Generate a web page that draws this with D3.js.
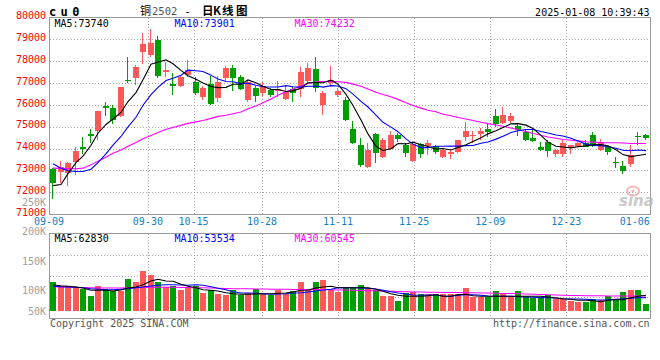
<!DOCTYPE html>
<html lang="zh">

<head>
	<meta charset="utf-8">
	<title>cu0 日K线图</title>
	<script src="https://d3js.org/d3.v7.min.js"></script>
	<style>
		body {
			margin: 0;
			background: #fff;
		}

		svg text {
			font-family: "DejaVu Sans Mono", "Liberation Mono", monospace;
			font-size: 10px;
		}
	</style>
</head>

<body>
	<script>
		//daily k-line of cu0 (copper 2502), 09-09 to 01-08

		var dates = ["09-09", "09-10", "09-11", "09-12", "09-13", "09-18", "09-19", "09-20", "09-23", "09-24",
			"09-25", "09-26", "09-27", "09-30", "10-08", "10-09", "10-10", "10-11", "10-14", "10-15",
			"10-16", "10-17", "10-18", "10-21", "10-22", "10-23", "10-24", "10-25", "10-28", "10-29",
			"10-30", "10-31", "11-01", "11-04", "11-05", "11-06", "11-07", "11-08", "11-11", "11-12",
			"11-13", "11-14", "11-15", "11-18", "11-19", "11-20", "11-21", "11-22", "11-25", "11-26",
			"11-27", "11-28", "11-29", "12-02", "12-03", "12-04", "12-05", "12-06", "12-09", "12-10",
			"12-11", "12-12", "12-13", "12-16", "12-17", "12-18", "12-19", "12-20", "12-23", "12-24",
			"12-25", "12-26", "12-27", "12-30", "12-31", "01-02", "01-03", "01-06", "01-07", "01-08"];

		var open = [73050, 72910, 72900, 73360, 74070, 74680, 74800, 75940, 75860, 75480,
			77160, 77230, 78420, 78300, 78980, 77500, 76940, 76860, 77380, 77030,
			76350, 76950, 76320, 77230, 77670, 77260, 76230, 76770, 76530, 76680,
			76650, 76290, 76730, 76730, 77080, 77640, 76000, 77000, 76470, 76230,
			74910, 74180, 73170, 74680, 73590, 74000, 74640, 74150, 73440, 74200,
			74110, 74110, 73590, 73770, 73850, 74530, 74560, 74650, 74910, 75480,
			75170, 75260, 75030, 74760, 74500, 74080, 74300, 73740, 73740, 74050,
			74080, 74260, 74610, 73950, 74050, 73390, 73200, 73270, 74590, 74620];
		var high = [73100, 73440, 73400, 74080, 74530, 74900, 75710, 76150, 75970, 76820,
			78170, 77830, 79290, 79460, 79150, 77970, 77480, 77320, 78060, 77260,
			76880, 77300, 77300, 77790, 77820, 77380, 77080, 76880, 77030, 76760,
			77080, 76850, 76800, 77730, 77910, 78210, 76650, 77760, 76770, 76350,
			75260, 74500, 74260, 74730, 74500, 74800, 74730, 74260, 74260, 74260,
			74380, 74180, 74040, 74000, 74410, 75210, 74800, 74950, 75140, 75820,
			75910, 75620, 75140, 74910, 74830, 74300, 74380, 74000, 74380, 74180,
			74300, 74380, 74760, 74450, 74120, 73590, 73440, 74150, 74760, 74650];
		var low = [71680, 72410, 72280, 72800, 73770, 74230, 74380, 75470, 75140, 75450,
			77000, 76910, 77860, 78170, 77250, 77260, 76450, 76830, 77290, 76450,
			76230, 75990, 76120, 77030, 76650, 76680, 76120, 76120, 76420, 76350,
			76350, 76230, 76120, 76350, 76970, 76580, 75520, 76830, 76350, 75250,
			74200, 73140, 73090, 73320, 73550, 73920, 74300, 73590, 73390, 73550,
			73700, 73730, 73550, 73500, 73800, 74350, 74260, 74380, 74530, 74980,
			75140, 75170, 74560, 74350, 74300, 73890, 73620, 73590, 73590, 73770,
			74050, 74050, 74080, 73890, 73700, 73090, 72820, 73170, 74150, 74410];
		var close = [72420, 73140, 73330, 73900, 74000, 74560, 75700, 75860, 75320, 76800,
			77090, 77740, 78800, 78850, 77320, 77580, 76870, 77260, 77600, 76530,
			76770, 76020, 77030, 77670, 77230, 76730, 77030, 76390, 76880, 76470,
			76730, 76590, 76530, 77490, 77700, 76780, 76530, 77140, 76620, 75320,
			74230, 73240, 73920, 73800, 74380, 74610, 74450, 73800, 74200, 73770,
			74230, 73850, 73950, 73850, 74380, 74800, 74610, 74800, 74760, 75100,
			75520, 75480, 74830, 74410, 74350, 73950, 73890, 73920, 74230, 74150,
			74230, 74080, 74150, 74300, 73850, 73330, 72970, 73700, 74530, 74500];
		var volume = [115200, 98700, 99100, 96300, 86800, 58900, 99400, 86600, 78800, 79300,
			126700, 114600, 158900, 142800, 115300, 97400, 98900, 82700, 96100, 98800,
			70600, 82900, 66800, 62700, 82600, 65300, 73400, 86900, 69200, 65400,
			85300, 69100, 78700, 114800, 85400, 115100, 122600, 82800, 76100, 93300,
			93100, 102700, 93400, 82600, 58700, 58800, 40100, 72300, 75900, 69400,
			69100, 69800, 68700, 69600, 69200, 92100, 56300, 55800, 56100, 78900,
			66800, 56200, 78600, 58800, 50900, 56300, 62600, 49300, 48900, 40200,
			36100, 35800, 49200, 45300, 58700, 45100, 74800, 82600, 83100, 27300];

		//moving averages as drawn on the chart
		var ma5 = [72300, 72350, 72850, 73350, 73650, 74150, 74700, 75100, 75350, 75650,
			76150, 76560, 77150, 77860, 77960, 78060, 77880, 77580, 77330, 77170,
			77000, 76840, 76790, 76800, 76940, 76940, 77140, 77010, 76850, 76700,
			76700, 76610, 76640, 76760, 77010, 77020, 77010, 77130, 76950, 76480,
			75970, 75310, 74670, 74100, 73910, 73990, 74230, 74210, 74290, 74170,
			74090, 73970, 74000, 73930, 74050, 74170, 74320, 74490, 74670, 74810,
			74960, 75130, 75140, 75070, 74920, 74600, 74290, 74100, 74070, 74030,
			74080, 74120, 74170, 74180, 74120, 73940, 73720, 73630, 73680, 73740];
		var ma10 = [73300, 73100, 72980, 72950, 72950, 73050, 73350, 73750, 74150, 74550,
			74990, 75430, 75980, 76470, 76800, 77110, 77220, 77360, 77590, 77560,
			77530, 77360, 77180, 77070, 77060, 76970, 76990, 76900, 76830, 76820,
			76820, 76880, 76830, 76810, 76850, 76860, 76810, 76880, 76860, 76740,
			76490, 76160, 75900, 75530, 75200, 74980, 74770, 74440, 74200, 74040,
			74040, 74100, 74100, 74110, 74110, 74130, 74140, 74240, 74300, 74430,
			74560, 74730, 74810, 74870, 74870, 74780, 74710, 74620, 74570, 74470,
			74340, 74200, 74140, 74130, 74080, 74010, 73920, 73900, 73930, 73901];
		var ma30 = [73100, 73090, 73080, 73070, 73100, 73250, 73420, 73600, 73780, 73930,
			74100, 74280, 74450, 74600, 74730, 74880, 74960, 75060, 75150, 75220,
			75280, 75380, 75470, 75520, 75590, 75670, 75820, 75950, 76100, 76270,
			76440, 76600, 76730, 76860, 76980, 77050, 77070, 77080, 77060, 77030,
			76950, 76850, 76730, 76580, 76470, 76370, 76250, 76100, 75970, 75850,
			75750, 75680, 75570, 75500, 75420, 75350, 75280, 75200, 75140, 75080,
			75020, 74940, 74860, 74780, 74690, 74610, 74530, 74470, 74410, 74380,
			74350, 74310, 74290, 74270, 74260, 74260, 74250, 74230, 74230, 74232];
		var volMa5 = [104000, 101000, 99000, 96000, 92000, 83000, 83000, 83000, 80000, 84000,
			92000, 96000, 105000, 120000, 127000, 120000, 119000, 107000, 99000, 93000,
			85000, 83000, 80000, 73000, 69000, 67000, 67000, 68000, 69000, 69000,
			71000, 72000, 76000, 83000, 84000, 92000, 96000, 99000, 93000, 93000,
			93000, 93000, 93000, 87000, 79000, 69000, 63000, 59000, 59000, 59000,
			61000, 65000, 59000, 59000, 65000, 67000, 61000, 59000, 59000, 59000,
			59000, 59000, 59000, 59000, 59000, 59000, 56000, 52000, 49000, 47000,
			43000, 43000, 41000, 37000, 43000, 45000, 45000, 53000, 59000, 62830];
		var volMa10 = [99000, 97000, 96000, 95000, 93000, 89000, 87000, 85000, 85000, 87000,
			89000, 93000, 96000, 100000, 103000, 105000, 105000, 104000, 103000, 105000,
			103000, 97000, 91000, 85000, 77000, 72000, 72000, 71000, 69000, 67000,
			68000, 69000, 72000, 73000, 76000, 80000, 84000, 87000, 93000, 93000,
			93000, 92000, 91000, 88000, 83000, 77000, 72000, 68000, 64000, 63000,
			64000, 65000, 60000, 59000, 63000, 65000, 65000, 63000, 60000, 59000,
			59000, 59000, 57000, 56000, 55000, 53000, 53000, 52000, 49000, 48000,
			48000, 47000, 45000, 44000, 45000, 47000, 49000, 51000, 53000, 53534];
		var volMa30 = [97000, 96000, 96000, 95000, 94000, 93000, 92000, 92000, 92000, 92000,
			93000, 93000, 94000, 95000, 95000, 95000, 95000, 94000, 94000, 93000,
			93000, 92000, 91000, 90000, 89000, 89000, 89000, 88000, 88000, 87000,
			87000, 87000, 86000, 86000, 86000, 86000, 86000, 85000, 84000, 84000,
			83000, 82000, 81000, 81000, 80000, 79000, 78000, 77000, 76000, 76000,
			75000, 75000, 74000, 74000, 74000, 73000, 73000, 72000, 72000, 71000,
			70000, 70000, 69000, 68000, 67000, 66000, 65000, 64000, 63000, 62000,
			62000, 61000, 61000, 61000, 60000, 60000, 60000, 60000, 60000, 60545];

		//axis labels
		var priceTicks = [71000, 72000, 73000, 74000, 75000, 76000, 77000, 78000, 79000, 80000];
		var volTicks = [250000, 200000, 150000, 100000, 50000];
		var dateTicks = ["09-09", "09-30", "10-15", "10-28", "11-11", "11-25", "12-09", "12-23", "01-06"];

		var volFormat = function (v) { return (v / 1000) + "K"; };

		//design variables
		var w = 660;
		var h = 360;
		var left = 50;
		var right = 650;
		var pTop = 18;
		var pBottom = 214;
		var vTop = 234;
		var vBottom = 318;
		var vBase = 311;

		var red = "#ff5858";
		var green = "#009e00";
		var gridColor = "#a8a8a8";
		var frameColor = "#999";

		var n = dates.length;
		var xScale = d3.scaleBand().domain(d3.range(n)).range([left, right]).paddingInner(0.2).paddingOuter(0.1);
		var xGrid = d3.scaleLinear().domain([0, n - 1]).range([49, 650]);
		var yScale = d3.scaleLinear().domain([71000, 80000]).range([pBottom, 17.5]);
		var yVol = d3.scaleLinear().domain([0, 100000]).range([vBase, vBase - 25]);
		var yVolLabel = d3.scaleLinear().domain([100000, 250000]).range([290.5, 201.7]);

		var bx = function (i) { return Math.floor(xScale(i)); };
		var crisp = function (v) { return Math.round(v) + 0.5; };

		var svg = d3.select("body")
			.append("svg")
			.attr("width", w)
			.attr("height", h);

		svg.append("rect").attr("width", w).attr("height", h).attr("fill", "#fff");

		//grid lines
		var grid = svg.append("g")
			.attr("stroke", gridColor)
			.attr("stroke-dasharray", "1,2")
			.attr("shape-rendering", "crispEdges");

		grid.selectAll(".hgrid")
			.data(priceTicks.slice(1, -1))
			.enter()
			.append("line")
			.attr("x1", left)
			.attr("x2", right)
			.attr("y1", function (d) { return crisp(yScale(d)); })
			.attr("y2", function (d) { return crisp(yScale(d)); });

		grid.selectAll(".vgrid")
			.data([0.25, 0.5, 0.75])
			.enter()
			.append("line")
			.attr("x1", left)
			.attr("x2", right)
			.attr("y1", function (d) { return crisp(vTop + (vBottom - vTop) * d); })
			.attr("y2", function (d) { return crisp(vTop + (vBottom - vTop) * d); });

		var innerDates = dateTicks.slice(1, -1);
		[[pTop, pBottom], [vTop, vBottom]].forEach(function (band) {
			grid.selectAll(null)
				.data(innerDates)
				.enter()
				.append("line")
				.attr("x1", function (d) { return crisp(xGrid(dates.indexOf(d))); })
				.attr("x2", function (d) { return crisp(xGrid(dates.indexOf(d))); })
				.attr("y1", band[0])
				.attr("y2", band[1]);
		});

		//candles
		var candles = svg.append("g").attr("shape-rendering", "crispEdges");
		var idx = d3.range(n);
		var col = function (i) { return close[i] >= open[i] ? red : green; };

		candles.selectAll(".wick")
			.data(idx)
			.enter()
			.append("line")
			.attr("x1", function (i) { return bx(i) + 2.5; })
			.attr("x2", function (i) { return bx(i) + 2.5; })
			.attr("y1", function (i) { return Math.round(yScale(high[i])); })
			.attr("y2", function (i) { return Math.round(yScale(low[i])); })
			.attr("stroke", col);

		candles.selectAll(".body")
			.data(idx)
			.enter()
			.append("rect")
			.attr("x", bx)
			.attr("width", 6)
			.attr("y", function (i) { return Math.round(yScale(Math.max(open[i], close[i]))); })
			.attr("height", function (i) {
				var top = Math.round(yScale(Math.max(open[i], close[i])));
				return Math.max(1, Math.round(yScale(Math.min(open[i], close[i]))) - top);
			})
			.attr("fill", col);

		//volume bars
		candles.selectAll(".vol")
			.data(idx)
			.enter()
			.append("rect")
			.attr("x", bx)
			.attr("width", 6)
			.attr("y", function (i) { return Math.round(yVol(volume[i])); })
			.attr("height", function (i) { return vBase - Math.round(yVol(volume[i])); })
			.attr("fill", col);

		//moving average lines
		var lineColors = ["#000", "#0000ff", "#ff00ff"];
		var priceLine = d3.line()
			.x(function (d, i) { return bx(i) + 3; })
			.y(function (d) { return yScale(d); });
		var volLine = d3.line()
			.x(function (d, i) { return bx(i) + 3; })
			.y(function (d) { return yVol(d); });

		[ma30, ma10, ma5].forEach(function (s, k) {
			svg.append("path")
				.attr("d", priceLine(s))
				.attr("fill", "none")
				.attr("stroke", lineColors[2 - k])
				.attr("stroke-width", 1.1);
		});
		[volMa30, volMa10, volMa5].forEach(function (s, k) {
			svg.append("path")
				.attr("d", volLine(s))
				.attr("fill", "none")
				.attr("stroke", lineColors[2 - k])
				.attr("stroke-width", 1.1);
		});

		//panel frames
		svg.append("rect")
			.attr("x", left - 0.5).attr("y", pTop - 0.5)
			.attr("width", right - left + 1).attr("height", pBottom - pTop + 1)
			.attr("fill", "none").attr("stroke", frameColor);
		svg.append("rect")
			.attr("x", left - 0.5).attr("y", vTop - 0.5)
			.attr("width", right - left + 1).attr("height", vBottom - vTop + 1)
			.attr("fill", "none").attr("stroke", frameColor);

		//price axis
		svg.selectAll(".plabel")
			.data(priceTicks)
			.enter()
			.append("text")
			.attr("x", 46)
			.attr("y", function (d) { return yScale(d) + 1.8; })
			.attr("text-anchor", "end")
			.attr("fill", "#f00")
			.text(function (d) { return d; });

		//volume axis (sina places these unevenly)
		svg.selectAll(".vlabel")
			.data(volTicks)
			.enter()
			.append("text")
			.attr("x", 46)
			.attr("y", function (d) { return Math.min(yVolLabel(d), 310.7) + 3.8; })
			.attr("text-anchor", "end")
			.attr("fill", "#a0a0a0")
			.text(volFormat);

		//date axis
		svg.selectAll(".dlabel")
			.data(dateTicks)
			.enter()
			.append("text")
			.attr("x", function (d) { return xGrid(dates.indexOf(d)); })
			.attr("y", 225)
			.attr("text-anchor", "middle")
			.attr("fill", "#1580c8")
			.text(function (d) { return d; });

		//ma legends
		var last = n - 1;
		var legends = [
			["MA5:" + ma5[last], "MA10:" + ma10[last], "MA30:" + ma30[last]],
			["MA5:" + volMa5[last], "MA10:" + volMa10[last], "MA30:" + volMa30[last]]
		];
		[27.3, 242.3].forEach(function (ly, r) {
			svg.selectAll(null)
				.data(legends[r])
				.enter()
				.append("text")
				.attr("x", function (d, k) { return 54.5 + k * 120; })
				.attr("y", ly)
				.attr("fill", function (d, k) { return lineColors[k]; })
				.text(function (d) { return d; });
		});

		//header
		svg.append("text")
			.attr("x", 49)
			.attr("y", 16)
			.style("font-size", "12px")
			.style("font-weight", "bold")
			.style("letter-spacing", "4.4px")
			.text("cu0");
		svg.append("text")
			.attr("x", 140)
			.attr("y", 14.5)
			.style("font-family", "'Noto Sans CJK SC', sans-serif")
			.style("font-size", "11px")
			.text("铜");
		svg.append("text")
			.attr("x", 152)
			.attr("y", 14.5)
			.attr("fill", "#555")
			.style("font-size", "10.5px")
			.text("2502");
		svg.append("text")
			.attr("x", 187.5)
			.attr("y", 14.5)
			.attr("text-anchor", "middle")
			.style("font-size", "11px")
			.text("-");
		svg.append("text")
			.attr("x", "202 213 222 236")
			.attr("y", 14.5)
			.style("font-family", "'Noto Sans CJK SC', sans-serif")
			.style("font-size", "11.5px")
			.style("font-weight", "bold")
			.text("日K线图");
		svg.append("text")
			.attr("x", 649.5)
			.attr("y", 15.7)
			.attr("text-anchor", "end")
			.text("2025-01-08 10:39:43");

		//footer
		svg.append("text")
			.attr("x", 50)
			.attr("y", 327)
			.attr("fill", "#555")
			.text("Copyright 2025 SINA.COM");
		svg.append("text")
			.attr("x", 649.5)
			.attr("y", 327)
			.attr("text-anchor", "end")
			.attr("fill", "#555")
			.text("http://finance.sina.com.cn");

		//sina watermark
		var mark = svg.append("g").attr("opacity", 0.75);
		mark.append("ellipse")
			.attr("cx", 633).attr("cy", 191).attr("rx", 6).attr("ry", 4.5)
			.attr("fill", "none").attr("stroke", "#f0a0a0").attr("stroke-width", 2);
		mark.append("circle")
			.attr("cx", 633).attr("cy", 191).attr("r", 1.6)
			.attr("fill", "#f0a0a0");
		mark.append("text")
			.attr("x", 619)
			.attr("y", 206)
			.attr("fill", "#b8b8b8")
			.style("font-family", "'DejaVu Sans', sans-serif")
			.style("font-size", "15px")
			.style("font-weight", "bold")
			.style("font-style", "italic")
			.text("sina");
	</script>
</body>

</html>
